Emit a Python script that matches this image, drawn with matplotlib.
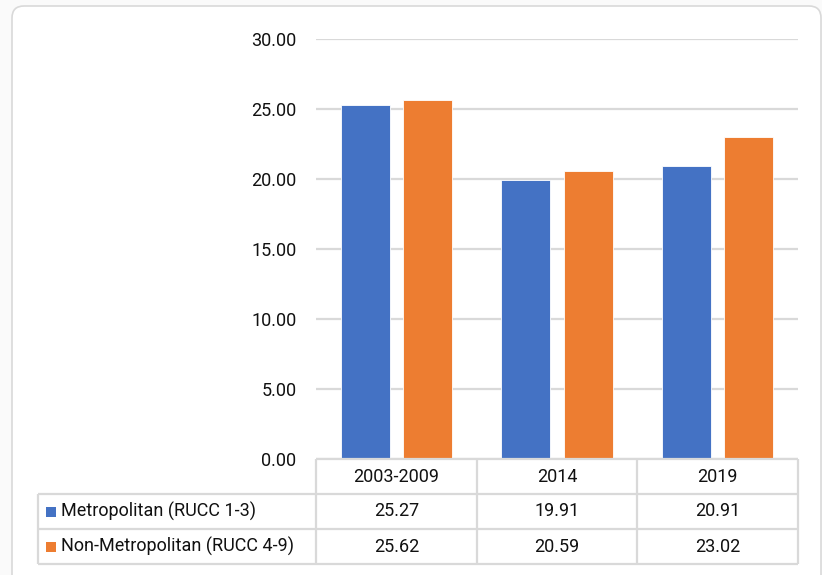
import numpy as np
import matplotlib.pyplot as plt
from matplotlib.patches import FancyBboxPatch

plt.rcParams['font.family'] = ['Roboto', 'DejaVu Sans']

periods = ['2003-2009', '2014', '2019']
series_names = ['Metropolitan (RUCC 1-3)', 'Non-Metropolitan (RUCC 4-9)']
metro = [25.27, 19.91, 20.91]
non_metro = [25.62, 20.59, 23.02]
colors = ['#4472C4', '#ED7D31']
y_ticks = [0, 5, 10, 15, 20, 25, 30]

W, H = 822, 575
fig = plt.figure(figsize=(W / 100, H / 100), dpi=100, facecolor='#fafafa')


def px(x0, y0, x1, y1):
    # pixel box (top-left origin) -> figure fraction rect
    return [x0 / W, 1 - y1 / H, (x1 - x0) / W, (y1 - y0) / H]


# chart frame, drawn behind the axes
frame = FancyBboxPatch((12, -30), 809, 575 - 6 + 30, boxstyle='round,pad=0,rounding_size=12',
                       transform=None, facecolor='white', edgecolor='#d9d9d9', lw=1.2, zorder=-1)
fig.patches.append(frame)

grid_c = '#d9d9d9'
txt_c = '#111111'
fs = 13

# bars
ax = fig.add_axes(px(316, 39, 798, 459))
ax.set_facecolor('none')
x = np.arange(len(periods))
bw, gap = 0.305, 0.085
ax.bar(x - (bw + gap) / 2, metro, bw, color=colors[0], edgecolor='white', lw=0.6, zorder=3)
ax.bar(x + (bw + gap) / 2, non_metro, bw, color=colors[1], edgecolor='white', lw=0.6, zorder=3)
ax.set_xlim(-0.5, 2.5)
ax.set_ylim(0, 30)
ax.set_yticks(y_ticks)
ax.set_yticklabels([f'{v:.2f}' for v in y_ticks], fontsize=fs, color=txt_c)
ax.set_xticks([])
ax.tick_params(axis='y', length=0, pad=14)
ax.yaxis.grid(True, color=grid_c, lw=1.6, zorder=0)
for s in ax.spines.values():
    s.set_visible(False)

# data table below the bars, columns aligned with the categories
scale = 482 / 3
tab = fig.add_axes(px(38, 459, 798, 564))
tab.set_xlim(-0.5 - 278 / scale, 2.5)
tab.set_ylim(3, 0)
tab.axis('off')
left = -0.5 - 278 / scale
lk = dict(color=grid_c, lw=1.6, clip_on=False, solid_capstyle='butt')
tab.plot([-0.5, 2.5], [0, 0], **lk)
for r in (1, 2, 3):
    tab.plot([left, 2.5], [r, r], **lk)
tab.plot([left, left], [1, 3], **lk)
for c in (-0.5, 0.5, 1.5, 2.5):
    tab.plot([c, c], [0, 3], **lk)

for i, p in enumerate(periods):
    tab.text(x[i], 0.5, p, ha='center', va='center', fontsize=fs, color=txt_c)
for r, (name, vals, col) in enumerate(zip(series_names, [metro, non_metro], colors), start=1):
    tab.plot(left + 13 / scale, r + 0.5, marker='s', ms=7.2, color=col, mew=0, clip_on=False)
    tab.text(left + 23 / scale, r + 0.5, name, ha='left', va='center', fontsize=fs, color=txt_c)
    for i, v in enumerate(vals):
        tab.text(x[i], r + 0.5, f'{v:.2f}', ha='center', va='center', fontsize=fs, color=txt_c)

fig.savefig('out.png', dpi=100, facecolor=fig.get_facecolor())
